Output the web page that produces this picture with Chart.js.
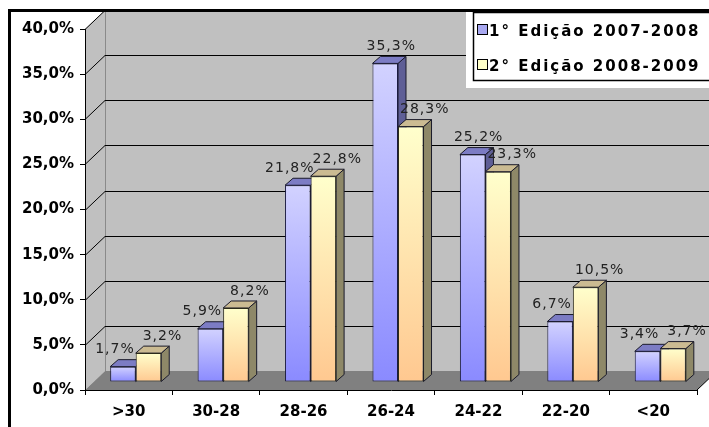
<!DOCTYPE html>
<html>
<head>
<meta charset="utf-8">
<script src="https://cdn.jsdelivr.net/npm/chart.js@4.4.0/dist/chart.umd.min.js"></script>
<style>
  html, body { margin: 0; padding: 0; background: #fff; }
  canvas { display: block; }
</style>
</head>
<body>
<canvas id="chart" width="709" height="427"></canvas>
<script>
const categories = ['>30', '30-28', '28-26', '26-24', '24-22', '22-20', '<20'];
const edition1 = [1.7, 5.9, 21.8, 35.3, 25.2, 6.7, 3.4];
const edition2 = [3.2, 8.2, 22.8, 28.3, 23.3, 10.5, 3.7];
const seriesNames = ['1° Edição 2007-2008', '2° Edição 2008-2009'];
const yMax = 40;
const yStep = 5;

// 3d look
const BAR_DX = 7, BAR_DY = -8;     // bars sit a bit behind the front plane
const DEPTH_X = 8, DEPTH_Y = -7;   // bar depth
const WALL_DX = 20, WALL_DY = -19; // back wall offset
const faces = [
  { side: '#5e5e96', top: '#7c7cc4', swatch: '#a8a8f0' },
  { side: '#8e8868', top: '#cbbb92', swatch: '#ffffc8' }
];

function fmtPct(v) { return v.toFixed(1).replace('.', ',') + '%'; }

function barFill(c0, c1) {
  return (c) => {
    const ch = c.chart;
    if (!ch.chartArea || c.type !== 'data') return c1;
    const ys = ch.scales.y;
    const top = ys.getPixelForValue(c.raw), bot = ys.getPixelForValue(0);
    const g = ch.ctx.createLinearGradient(0, top, 0, bot);
    g.addColorStop(0, c0);
    g.addColorStop(1, c1);
    return g;
  };
}

const scene = {
  id: 'scene',
  beforeDraw(chart) {
    const ctx = chart.ctx, a = chart.chartArea, ys = chart.scales.y;
    const W = chart.width;
    ctx.save();
    ctx.fillStyle = '#fff';
    ctx.fillRect(0, 0, W, chart.height);

    // side wall + back wall
    ctx.fillStyle = '#c0c0c0';
    ctx.beginPath();
    ctx.moveTo(a.left, a.top);
    ctx.lineTo(a.left + WALL_DX, a.top + WALL_DY);
    ctx.lineTo(a.left + WALL_DX, a.bottom + WALL_DY);
    ctx.lineTo(a.left, a.bottom);
    ctx.closePath();
    ctx.fill();
    ctx.fillRect(a.left + WALL_DX, a.top + WALL_DY, W, a.bottom - a.top);

    // floor
    ctx.fillStyle = '#808080';
    ctx.beginPath();
    ctx.moveTo(a.left, a.bottom);
    ctx.lineTo(a.left + WALL_DX, a.bottom + WALL_DY);
    ctx.lineTo(a.right + WALL_DX, a.bottom + WALL_DY);
    ctx.lineTo(a.right, a.bottom);
    ctx.closePath();
    ctx.fill();
    ctx.strokeStyle = '#000';
    ctx.lineWidth = 1;
    ctx.beginPath();
    ctx.moveTo(a.right, a.bottom);
    ctx.lineTo(a.right + WALL_DX, a.bottom + WALL_DY);
    ctx.stroke();

    // back wall edge
    ctx.strokeStyle = '#8a8a8a';
    ctx.beginPath();
    ctx.moveTo(a.left + WALL_DX + 0.5, a.top + WALL_DY);
    ctx.lineTo(a.left + WALL_DX + 0.5, a.bottom + WALL_DY);
    ctx.stroke();

    // gridlines
    ctx.strokeStyle = '#000';
    ys.ticks.forEach(t => {
      if (t.value === 0) return;
      const py = Math.round(ys.getPixelForValue(t.value)) + 0.5;
      ctx.beginPath();
      ctx.moveTo(a.left, py);
      ctx.lineTo(a.left + WALL_DX, py + WALL_DY);
      ctx.lineTo(W, py + WALL_DY);
      ctx.stroke();
    });
    ctx.restore();
  },
  beforeDatasetsDraw(chart) {
    const ctx = chart.ctx;
    ctx.save();
    ctx.translate(BAR_DX, BAR_DY);
    chart.data.datasets.forEach((ds, di) => {
      const meta = chart.getDatasetMeta(di);
      meta.data.forEach(bar => {
        const l = bar.x - bar.width / 2, r = bar.x + bar.width / 2;
        const t = bar.y, b = bar.base;
        ctx.lineWidth = 1;
        ctx.strokeStyle = '#1a1a2a';
        ctx.fillStyle = faces[di].side;
        ctx.beginPath();
        ctx.moveTo(r, t);
        ctx.lineTo(r + DEPTH_X, t + DEPTH_Y);
        ctx.lineTo(r + DEPTH_X, b + DEPTH_Y);
        ctx.lineTo(r, b);
        ctx.closePath();
        ctx.fill();
        ctx.stroke();
        ctx.fillStyle = faces[di].top;
        ctx.beginPath();
        ctx.moveTo(l, t);
        ctx.lineTo(l + DEPTH_X, t + DEPTH_Y);
        ctx.lineTo(r + DEPTH_X, t + DEPTH_Y);
        ctx.lineTo(r, t);
        ctx.closePath();
        ctx.fill();
        ctx.stroke();
      });
    });
  },
  afterDatasetsDraw(chart) {
    const ctx = chart.ctx;
    const m0 = chart.getDatasetMeta(0), m1 = chart.getDatasetMeta(1);
    ctx.font = '14px "DejaVu Sans"';
    ctx.letterSpacing = '1px';
    ctx.fillStyle = '#222';
    ctx.textAlign = 'center';
    ctx.textBaseline = 'middle';
    m0.data.forEach((bar, i) => {
      const off = edition1[i] < edition2[i] ? -8 : 6;
      ctx.fillText(fmtPct(edition1[i]), bar.x + off, bar.y - 17);
    });
    m1.data.forEach((bar, i) => {
      ctx.fillText(fmtPct(edition2[i]), bar.x + 14, bar.y - 17);
    });
    ctx.letterSpacing = '0px';
    ctx.restore();
  },
  afterDraw(chart) {
    const ctx = chart.ctx, W = chart.width;
    ctx.save();
    // legend
    ctx.fillStyle = '#fff';
    ctx.fillRect(466, 10, W - 466, 78);
    ctx.strokeStyle = '#000';
    ctx.lineWidth = 1.5;
    ctx.strokeRect(473.5, 12.5, 260, 68);
    ctx.font = 'bold 15px "DejaVu Sans"';
    ctx.letterSpacing = '2px';
    ctx.textAlign = 'left';
    ctx.textBaseline = 'alphabetic';
    seriesNames.forEach((name, i) => {
      const top = 24 + i * 35;
      ctx.fillStyle = faces[i].swatch;
      ctx.fillRect(477.5, top + 0.5, 10, 10);
      ctx.lineWidth = 1;
      ctx.strokeRect(477.5, top + 0.5, 10, 10);
      ctx.fillStyle = '#000';
      ctx.fillText(name, 489, top + 12);
    });
    ctx.letterSpacing = '0px';
    // outer frame
    ctx.fillStyle = '#000';
    ctx.fillRect(8, 9, 3, chart.height - 9);
    ctx.fillRect(8, 9, W - 8, 3);
    ctx.restore();
  }
};

new Chart(document.getElementById('chart'), {
  type: 'bar',
  data: {
    labels: categories,
    datasets: [
      {
        label: seriesNames[0],
        data: edition1,
        backgroundColor: barFill('#d2d2ff', '#8a8aff'),
        borderColor: '#1a1a40',
        borderWidth: 1,
        borderSkipped: false,
        categoryPercentage: 0.584,
        barPercentage: 1,
        clip: false
      },
      {
        label: seriesNames[1],
        data: edition2,
        backgroundColor: barFill('#ffffcc', '#ffc890'),
        borderColor: '#2a2a1a',
        borderWidth: 1,
        borderSkipped: false,
        categoryPercentage: 0.584,
        barPercentage: 1,
        clip: false
      }
    ]
  },
  options: {
    responsive: false,
    animation: false,
    devicePixelRatio: 1,
    layout: { padding: { left: 0, top: 29, right: 12, bottom: 0 } },
    plugins: { legend: { display: false }, tooltip: { enabled: false } },
    scales: {
      x: {
        grid: { offset: true, drawOnChartArea: false, tickLength: 5, color: '#000' },
        border: { display: true, color: '#000', width: 1 },
        ticks: { color: '#000', padding: 8, font: { family: 'DejaVu Sans', size: 15, weight: 'bold' } },
        afterFit: s => { s.height = 37; }
      },
      y: {
        min: 0,
        max: yMax,
        grid: { drawOnChartArea: false, tickLength: 5, color: '#000' },
        border: { display: true, color: '#000', width: 1 },
        ticks: {
          stepSize: yStep,
          color: '#000',
          padding: 6,
          font: { family: 'DejaVu Sans', size: 15, weight: 'bold' },
          callback: v => fmtPct(v)
        },
        afterFit: s => { s.width = 85; }
      }
    }
  },
  plugins: [scene]
});
</script>
</body>
</html>
